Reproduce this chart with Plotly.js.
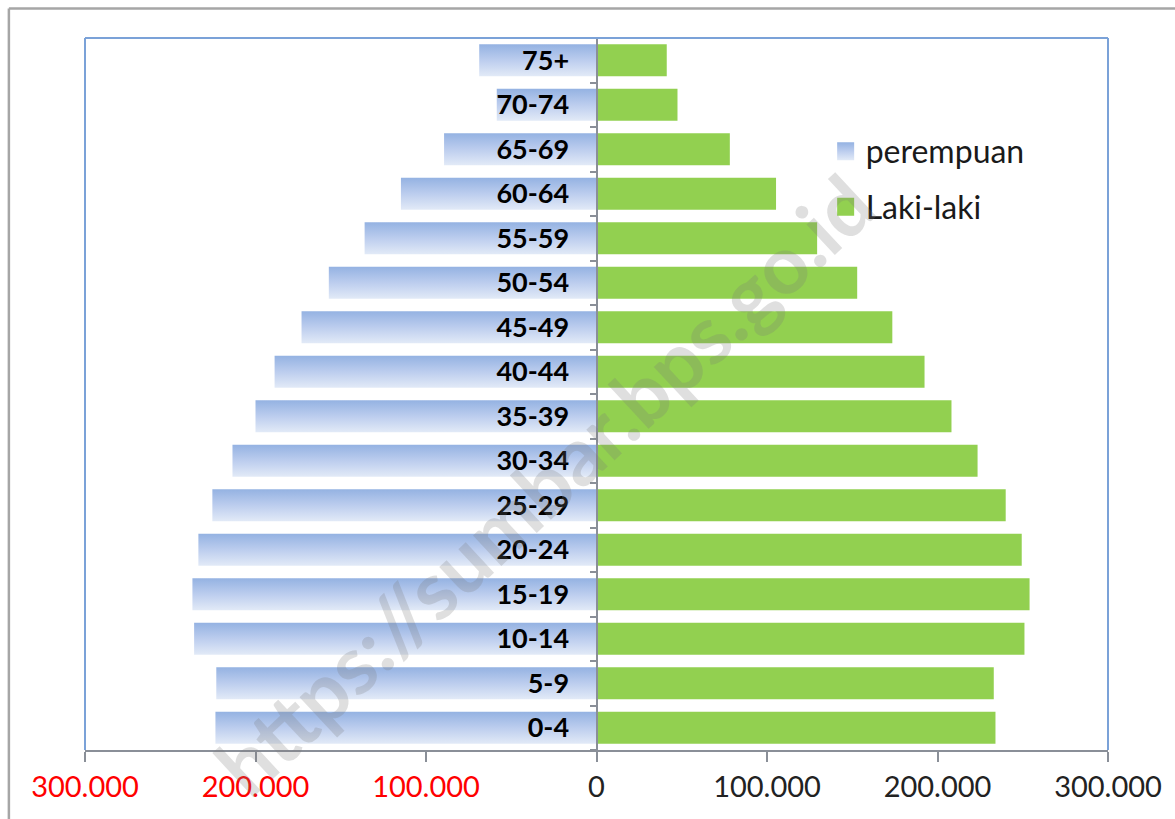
<!DOCTYPE html>
<html>
<head>
<meta charset="utf-8">
<script src="https://cdn.plot.ly/plotly-3.0.1.min.js"></script>
<style>
  html, body { margin: 0; padding: 0; background: #ffffff; }
  #chart { width: 1175px; height: 819px; }
</style>
</head>
<body>
<div id="chart"></div>
<script>
// Age groups (bottom to top)
const ageGroups = ["0-4","5-9","10-14","15-19","20-24","25-29","30-34","35-39","40-44","45-49","50-54","55-59","60-64","65-69","70-74","75+"];
// Female population (perempuan), drawn to the left
const perempuan = [223500, 223000, 236000, 237000, 233500, 225300, 213500, 200000, 188800, 173000, 157000, 136000, 114700, 89400, 58500, 68800];
// Male population (Laki-laki), drawn to the right
const lakiLaki = [234000, 233000, 251000, 254000, 249400, 240000, 223500, 208200, 192400, 173500, 152900, 129400, 105300, 78200, 47500, 41200];
// X-axis ticks
const xTickVals = [-300000, -200000, -100000, 0, 100000, 200000, 300000];
const xTickText = ['<span style="color:#ff0000">300.000</span>', '<span style="color:#ff0000">200.000</span>', '<span style="color:#ff0000">100.000</span>', '0', '100.000', '200.000', '300.000'];

const FONT = 'Lato, "Open Sans", sans-serif';

const traces = [
  {
    type: 'bar', orientation: 'h', name: 'perempuan', legendgroup: 'a',
    y: ageGroups, x: perempuan.map(v => -v),
    marker: { color: '#b9cbec', line: { width: 0 } },
    hoverinfo: 'skip'
  },
  {
    type: 'bar', orientation: 'h', name: 'Laki-laki', legendgroup: 'b',
    y: ageGroups, x: lakiLaki,
    marker: { color: '#92d050', line: { width: 0 } },
    hoverinfo: 'skip'
  }
];

const borderBlue = '#7ba2d8';
const layout = {
  width: 1175, height: 819,
  margin: { l: 85, r: 67, t: 38, b: 69 },
  paper_bgcolor: '#ffffff', plot_bgcolor: '#ffffff',
  barmode: 'overlay', bargap: 0.28,
  showlegend: true,
  legend: {
    x: 0.724, y: 0.88, xanchor: 'left', yanchor: 'top',
    font: { family: FONT, size: 32, color: '#1a1a1a' },
    bgcolor: 'rgba(0,0,0,0)', tracegroupgap: 11, traceorder: 'grouped'
  },
  xaxis: {
    range: [-300000, 300000], tickvals: xTickVals, ticktext: xTickText,
    showgrid: false, zeroline: false,
    showline: true, linecolor: '#8a8f98', linewidth: 2,
    ticks: 'outside', ticklen: 10, tickwidth: 2, tickcolor: '#8a8f98',
    tickfont: { family: FONT, size: 29, color: '#222222' },
    fixedrange: true
  },
  yaxis: {
    type: 'category', anchor: 'free', position: 0.5,
    showgrid: false, zeroline: false,
    showline: true, linecolor: '#8a8f98', linewidth: 2,
    ticks: 'outside', tickson: 'boundaries', ticklen: 6, tickwidth: 2, tickcolor: '#8a8f98',
    ticklabelstandoff: 21,
    tickfont: { family: FONT, size: 27, color: '#000000', weight: 'bold' },
    fixedrange: true
  },
  shapes: [
    // plot area border (top, left, right) in blue
    { type: 'line', xref: 'paper', yref: 'paper', x0: 0, x1: 1, y0: 1, y1: 1, line: { color: borderBlue, width: 2 } },
    { type: 'line', xref: 'paper', yref: 'paper', x0: 0, x1: 0, y0: 0, y1: 1, line: { color: borderBlue, width: 2 } },
    { type: 'line', xref: 'paper', yref: 'paper', x0: 1, x1: 1, y0: 0, y1: 1, line: { color: borderBlue, width: 2 } },
    // outer chart frame
    { type: 'line', xref: 'paper', yref: 'paper', x0: -0.0744, x1: 1.2, y0: 1.0414, y1: 1.0414, line: { color: '#a6a6a6', width: 2.5 } },
    { type: 'line', xref: 'paper', yref: 'paper', x0: -0.0744, x1: -0.0744, y0: -0.2, y1: 1.0414, line: { color: '#a6a6a6', width: 2.5 } }
  ],
  annotations: [
    {
      text: 'https://sumbar.bps.go.id', xref: 'paper', yref: 'paper',
      x: 0.448, y: 0.375, xanchor: 'center', yanchor: 'middle', showarrow: false,
      textangle: -43,
      font: { family: FONT, size: 81, color: 'rgba(120,120,120,0.24)', weight: 'bold' }
    }
  ]
};

Plotly.newPlot('chart', traces, layout, { staticPlot: true, displayModeBar: false }).then(gd => {
  const svg = gd.querySelector('svg.main-svg');
  const ns = 'http://www.w3.org/2000/svg';
  let defs = svg.querySelector('defs');
  if (!defs) { defs = document.createElementNS(ns, 'defs'); svg.insertBefore(defs, svg.firstChild); }
  const grad = document.createElementNS(ns, 'linearGradient');
  grad.setAttribute('id', 'femaleGrad');
  grad.setAttribute('x1', '0'); grad.setAttribute('y1', '0');
  grad.setAttribute('x2', '0'); grad.setAttribute('y2', '1');
  [['0', '#94b2e2'], ['0.5', '#bccdee'], ['1', '#e2eaf7']].forEach(([o, c]) => {
    const s = document.createElementNS(ns, 'stop');
    s.setAttribute('offset', o); s.setAttribute('stop-color', c);
    grad.appendChild(s);
  });
  defs.appendChild(grad);
  const barTraces = gd.querySelectorAll('.barlayer .trace');
  if (barTraces[0]) barTraces[0].querySelectorAll('path').forEach(p => { p.style.fill = 'url(#femaleGrad)'; });
  const legendPts = gd.querySelectorAll('.legend .traces .legendpoints path');
  legendPts.forEach((p, i) => {
    p.setAttribute('d', 'M8.5,9.5H-8.5V-8.5H8.5Z');
    if (i === 0) p.style.fill = 'url(#femaleGrad)';
  });
});
</script>
</body>
</html>
